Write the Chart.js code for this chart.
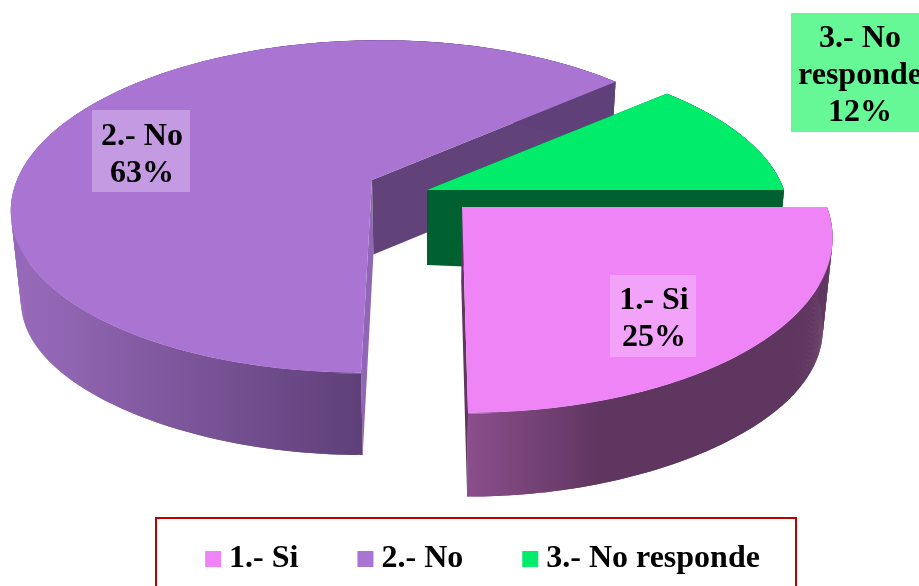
<!DOCTYPE html>
<html>
<head>
<meta charset="utf-8">
<style>
  html, body { margin: 0; padding: 0; background: #fff; overflow: hidden; }
  canvas { display: block; }
</style>
<script src="https://cdn.jsdelivr.net/npm/chart.js@4"></script>
</head>
<body>
<canvas id="chart_pie" width="919" height="586"></canvas>
<script>
const categories = ["1.- Si", "2.- No", "3.- No responde"];
const shares = [25, 63.3, 11.7];
const sliceColors = ["#EE84F5", "#A974D2", "#00EC6A"];
const labelFills = ["#F3A2F9", "#C49BE3", "#66F896"];

const FONT = "bold 32px 'Liberation Serif'";

// perspective of the pie plane, picked by eye against the picture
const vanishX = 430, tilt = 0.159, depth = 75, depthGrow = 0.04, depthBase = 190, floorScale = 0.976, sideDrop = 14;

// where each exploded slice sits, and how its side walls are shaded
const faces = [
  { tipX: 462, tipY: 207, rx: 365, ry: 173, wall: [[470, "#8A4E8A"], [600, "#5F3660"]], endEdge: "#5F3660" },
  { tipX: 372, tipY: 180, rx: 355, ry: 162, wall: [[30, "#9669B8"], [360, "#5F4079"]], startEdge: "#9066B5", endEdge: "#61437A" },
  { tipX: 427, tipY: 190, rx: 357, ry: 159, wall: [[0, "#006030"], [919, "#006030"]], startEdge: "#006030", endEdge: "#006030" }
];

// text boxes: left, top, right, bottom, first baseline
const labelBoxes = [
  { l: 610, t: 275, r: 696, b: 357, base: 309, cx: 654, lines: ["1.- Si"] },
  { l: 92, t: 110, r: 190, b: 192, base: 145, cx: 142, lines: ["2.- No"] },
  { l: 791, t: 13, r: 919, b: 132, base: 47, cx: 860, lines: ["3.- No", "responde"] }
];

function project(f, angle, floor) {
  const u = Math.cos(angle), v = Math.sin(angle), w = 1 - tilt * v;
  let x = vanishX + (f.tipX - vanishX + f.rx * u) / w;
  let y = f.tipY + f.ry * v / w;
  if (floor) {
    x = vanishX + (x - vanishX) * floorScale;
    y = y + depth + depthGrow * (y - depthBase) + sideDrop * u * u * u * u;
  }
  return [x, y];
}

function tipPoint(f, floor) {
  if (!floor) return [f.tipX, f.tipY];
  return [vanishX + (f.tipX - vanishX) * floorScale, f.tipY + depth + depthGrow * (f.tipY - depthBase)];
}

function fillPoly(ctx, pts, style) {
  ctx.beginPath();
  pts.forEach((p, i) => i ? ctx.lineTo(p[0], p[1]) : ctx.moveTo(p[0], p[1]));
  ctx.closePath();
  ctx.fillStyle = style;
  ctx.fill();
}

function drawEdge(ctx, f, angle, color) {
  if (!color) return;
  fillPoly(ctx, [tipPoint(f, false), project(f, angle, false), project(f, angle, true), tipPoint(f, true)], color);
}

// swept quads, so the silhouette stays straight where rim and floor cross
function drawWall(ctx, f, a0, a1) {
  const grad = ctx.createLinearGradient(f.wall[0][0], 0, f.wall[1][0], 0);
  grad.addColorStop(0, f.wall[0][1]);
  grad.addColorStop(1, f.wall[1][1]);
  const steps = 300;
  for (let i = 0; i < steps; i++) {
    const a = a0 + (a1 - a0) * i / steps;
    const b = a0 + (a1 - a0) * Math.min(i + 2, steps) / steps;
    fillPoly(ctx, [project(f, a, false), project(f, b, false), project(f, b, true), project(f, a, true)], grad);
  }
}

// the library's arc is a circle; draw it one pixel row at a time under the perspective
function drawFace(ctx, f, el, chart) {
  const r = el.outerRadius;
  const y0 = Math.floor(f.tipY - f.ry / (1 + tilt));
  const y1 = Math.ceil(f.tipY + f.ry / (1 - tilt));
  for (let Y = y0; Y <= y1; Y++) {
    const d = Y + 0.5 - f.tipY;
    const v = Math.max(-1, Math.min(1, d / (f.ry + tilt * d)));
    const w = 1 - tilt * v;
    const sx = f.rx / (r * w);
    const sy = f.ry / (w * w * r);
    ctx.save();
    ctx.beginPath();
    ctx.rect(0, Y, chart.width, 1);
    ctx.clip();
    ctx.setTransform(sx, 0, 0, sy,
      vanishX + (f.tipX - vanishX) / w - sx * el.x,
      Y + 0.5 - sy * (el.y + r * v));
    el.draw(ctx);
    ctx.restore();
  }
}

const pie3d = {
  id: "pie3d",
  afterLayout(chart) {
    // legend sits in the red frame, a bit right of the canvas centre
    const lg = chart.legend, pad = lg.options.labels.padding;
    lg.top = 543 - pad;
    lg.left += 27;
    lg.right += 27;
  },
  beforeDraw(chart) {
    const ctx = chart.ctx;
    ctx.save();
    ctx.fillStyle = "#fff";
    ctx.fillRect(0, 0, chart.width, chart.height);
    ctx.strokeStyle = "#C00000";
    ctx.lineWidth = 2;
    ctx.strokeRect(156, 518, 640, 80);
    ctx.restore();
  },
  beforeDatasetsDraw(chart) {
    const ctx = chart.ctx, arcs = chart.getDatasetMeta(0).data;
    [1, 2, 0].forEach(i => {
      const el = arcs[i], f = faces[i];
      drawEdge(ctx, f, el.startAngle, f.startEdge);
      drawEdge(ctx, f, el.endAngle, f.endEdge);
      drawWall(ctx, f, el.startAngle, el.endAngle);
      drawFace(ctx, f, el, chart);
    });
    return false;
  },
  afterDraw(chart) {
    const ctx = chart.ctx;
    ctx.save();
    ctx.font = FONT;
    ctx.textAlign = "center";
    ctx.textBaseline = "alphabetic";
    const total = shares.reduce((a, c) => a + c, 0);
    labelBoxes.forEach((b, i) => {
      ctx.fillStyle = labelFills[i];
      ctx.fillRect(b.l, b.t, b.r - b.l, b.b - b.t);
      ctx.fillStyle = "#000";
      const lines = b.lines.concat(Math.round(shares[i] / total * 100) + "%");
      lines.forEach((t, n) => ctx.fillText(t, b.cx, b.base + n * 37));
    });
    ctx.restore();
  }
};

new Chart(document.getElementById("chart_pie"), {
  type: "pie",
  data: {
    labels: categories,
    datasets: [{ data: shares, backgroundColor: sliceColors, borderWidth: 0 }]
  },
  options: {
    responsive: false,
    animation: false,
    devicePixelRatio: 1,
    rotation: 90,
    plugins: {
      tooltip: { enabled: false },
      legend: {
        position: "bottom",
        labels: {
          usePointStyle: true,
          pointStyle: "rect",
          boxWidth: 0.01,
          boxHeight: 16,
          padding: 67,
          color: "#000",
          font: { family: "'Liberation Serif'", size: 32, weight: "bold" }
        }
      }
    }
  },
  plugins: [pie3d]
});
</script>
</body>
</html>
